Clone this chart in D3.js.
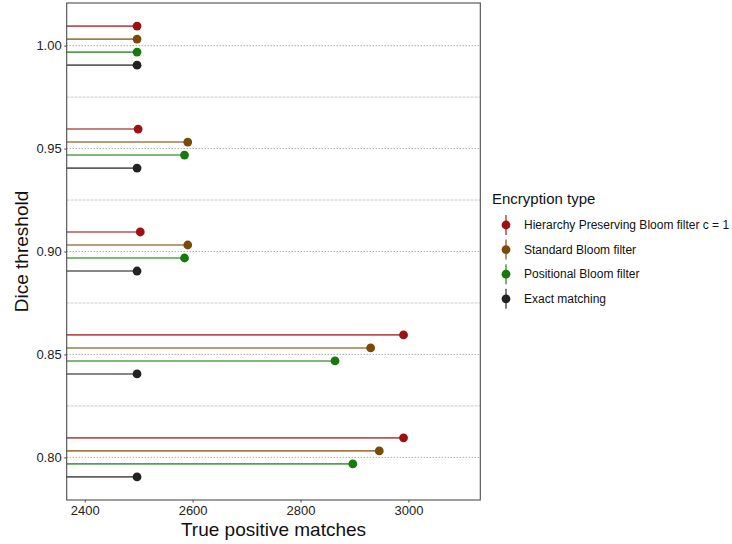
<!DOCTYPE html>
<html>
<head>
<meta charset="utf-8">
<script src="https://cdn.jsdelivr.net/npm/d3@7"></script>
<style>
  body { margin: 0; background: #fff; }
  text { font-family: "Liberation Sans", Arial, sans-serif; }
</style>
</head>
<body>
<svg id="chart" width="732" height="544"></svg>
<script>
// data
let thresholds = [0.80, 0.85, 0.90, 0.95, 1.00];
let types = ["Hierarchy Preserving Bloom filter c = 1", "Standard Bloom filter", "Positional Bloom filter", "Exact matching"];
let hpbf = [2991, 2991, 2503, 2499, 2497];
let standard = [2946, 2930, 2591, 2591, 2497];
let positional = [2897, 2864, 2585, 2585, 2497];
let exact = [2497, 2497, 2497, 2497, 2497];
let xTicks = [2400, 2600, 2800, 3000];
let yTicks = [0.80, 0.85, 0.90, 0.95, 1.00];
let yMinor = [0.825, 0.875, 0.925, 0.975];

let colors = ["#9e1111", "#7b4a06", "#187a0c", "#222222"];
let seriesValues = [hpbf, standard, positional, exact];

let myData = [];
types.forEach(function (t, i) {
    thresholds.forEach(function (th, j) {
        myData.push({type: t, idx: i, threshold: th, value: seriesValues[i][j]});
    });
});

let margin = {top: 3, left: 66.7, right: 251.7, bottom: 44},
    width = 732 - margin.left - margin.right,
    height = 544 - margin.top - margin.bottom;

let svg = d3.select("#chart");
let chart = svg.append("g")
    .attr("transform", "translate(" + margin.left + "," + margin.top + ")");

let xScale = d3.scaleLinear().domain([2366.6, 3133.3]).range([0, width]);
let yScale = d3.scaleLinear().domain([0.7793, 1.0207]).range([height, 0]);
let dodge = 0.00632;

// grid lines
chart.selectAll(".minor").data(yMinor).enter().append("line")
    .attr("x1", 0).attr("x2", width)
    .attr("y1", d => yScale(d)).attr("y2", d => yScale(d))
    .attr("stroke", "#bdbdbd").attr("stroke-width", 0.8)
    .attr("stroke-dasharray", "3,1");
chart.selectAll(".major").data(yTicks).enter().append("line")
    .attr("x1", 0).attr("x2", width)
    .attr("y1", d => yScale(d)).attr("y2", d => yScale(d))
    .attr("stroke", "#8a8a8a").attr("stroke-width", 1)
    .attr("stroke-dasharray", "1,2");

// segments + points
let ypos = d => yScale(d.threshold - (d.idx - 1.5) * dodge);
chart.selectAll(".seg").data(myData).enter().append("line")
    .attr("x1", 0)
    .attr("x2", d => xScale(d.value))
    .attr("y1", ypos).attr("y2", ypos)
    .attr("stroke", d => colors[d.idx])
    .attr("stroke-opacity", 0.72)
    .attr("stroke-width", 1.6);
chart.selectAll(".pt").data(myData).enter().append("circle")
    .attr("cx", d => xScale(d.value))
    .attr("cy", ypos)
    .attr("r", 4.4)
    .attr("fill", d => colors[d.idx]);

// panel border
chart.append("rect")
    .attr("width", width).attr("height", height)
    .attr("fill", "none").attr("stroke", "#4d4d4d").attr("stroke-width", 1.1);

// axes
let xAxis = chart.append("g")
    .attr("transform", "translate(0," + height + ")")
    .call(d3.axisBottom(xScale).tickValues(xTicks).tickSize(2.5).tickPadding(3).tickFormat(d3.format("d")));
let yAxis = chart.append("g")
    .call(d3.axisLeft(yScale).tickValues(yTicks).tickSize(2.5).tickPadding(2.5).tickFormat(d3.format(".2f")));
[xAxis, yAxis].forEach(function (a) {
    a.select(".domain").remove();
    a.selectAll(".tick line").attr("stroke", "#4d4d4d");
    a.selectAll(".tick text").attr("fill", "#222").style("font-size", "13px")
        .style("font-family", "'Liberation Sans', Arial, sans-serif");
});

svg.append("text")
    .attr("x", margin.left + width / 2).attr("y", 536)
    .attr("text-anchor", "middle")
    .style("font-size", "19px").attr("fill", "#111")
    .text("True positive matches");
svg.append("text")
    .attr("transform", "translate(28," + (margin.top + height / 2) + ") rotate(-90)")
    .attr("text-anchor", "middle")
    .style("font-size", "19px").attr("fill", "#111")
    .text("Dice threshold");

// legend
let legend = svg.append("g").attr("transform", "translate(492,0)");
legend.append("text")
    .attr("x", 0).attr("y", 204)
    .style("font-size", "15px").attr("fill", "#111")
    .text("Encryption type");
let keys = legend.selectAll(".key").data(types).enter().append("g")
    .attr("transform", (d, i) => "translate(0," + (225 + i * 24.6) + ")");
keys.append("line")
    .attr("x1", 14).attr("x2", 14).attr("y1", -10).attr("y2", 10)
    .attr("stroke", (d, i) => colors[i]).attr("stroke-opacity", 0.72).attr("stroke-width", 1.6);
keys.append("circle")
    .attr("cx", 14).attr("cy", 0).attr("r", 4.4)
    .attr("fill", (d, i) => colors[i]);
keys.append("text")
    .attr("x", 32).attr("y", 4)
    .style("font-size", "12px").attr("fill", "#111")
    .text(d => d);
</script>
</body>
</html>
